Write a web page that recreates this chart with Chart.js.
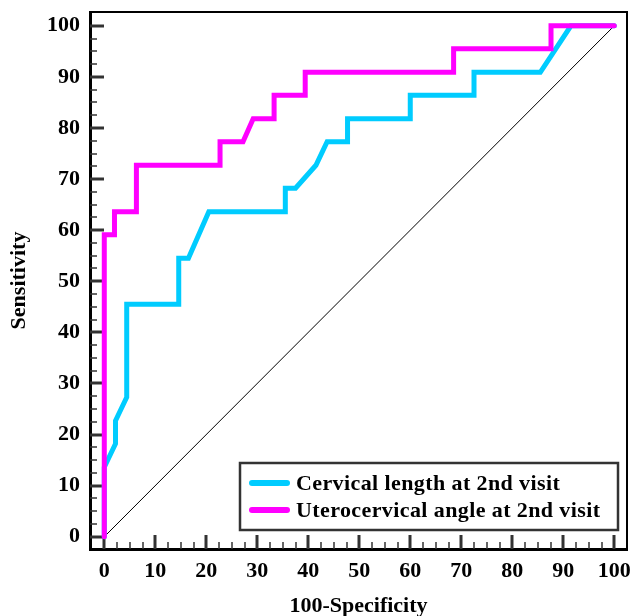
<!DOCTYPE html>
<html><head><meta charset="utf-8">
<script src="https://cdn.jsdelivr.net/npm/chart.js@4.4.1/dist/chart.umd.min.js"></script>
<style>html,body{margin:0;padding:0;background:#fff}#wrap{width:632px;height:616px;position:relative}</style>
</head><body><div id="wrap"><canvas id="c" width="632" height="616"></canvas></div>
<script>
// ---- data ----
const seriesLabels = ['Cervical length at 2nd visit', 'Uterocervical angle at 2nd visit'];
const cvX = [0, 0, 2.2, 2.2, 4.4, 4.4, 14.6, 14.6, 16.5, 20.5, 35.5, 35.5, 37.5, 41.5, 43.7, 47.7, 47.7, 60, 60, 72.5, 72.5, 85.5, 91.5, 100];
const cvY = [0, 13.6, 18.2, 22.7, 27.3, 45.5, 45.5, 54.5, 54.5, 63.6, 63.6, 68.2, 68.2, 72.7, 77.3, 77.3, 81.8, 81.8, 86.4, 86.4, 90.9, 90.9, 100, 100];
const ucX = [0, 0, 2, 2, 6.3, 6.3, 22.7, 22.7, 27.2, 29.2, 33.3, 33.3, 39.4, 39.4, 68.5, 68.5, 87.6, 87.6, 100];
const ucY = [0, 59.1, 59.1, 63.6, 63.6, 72.7, 72.7, 77.3, 77.3, 81.8, 81.8, 86.4, 86.4, 90.9, 90.9, 95.5, 95.5, 100, 100];
const refX = [0, 100];
const refY = [0, 100];
const tickValues = [0, 10, 20, 30, 40, 50, 60, 70, 80, 90, 100];
const minorStep = 2.5;

const pts = (xs, ys) => xs.map((v, i) => ({x: v, y: ys[i]}));
const FONT = '"Liberation Serif", "Times New Roman", serif';
const CYAN = '#00CCFF', MAG = '#FF00FF';

const frameTicks = {
  id: 'frameTicks',
  beforeDatasetsDraw(chart) {
    const {ctx, chartArea: a, scales: {x, y}} = chart;
    ctx.save();
    ctx.strokeStyle = '#333';
    const lo = tickValues[0], hi = tickValues[tickValues.length - 1];
    for (let v = lo; v <= hi + 1e-9; v += minorStep) {
      const major = tickValues.includes(v);
      ctx.lineWidth = major ? 3 : 1.5;
      const len = major ? 14 : 7;
      const py = Math.round(y.getPixelForValue(v));
      ctx.beginPath(); ctx.moveTo(a.left, py); ctx.lineTo(a.left + len, py); ctx.stroke();
      const px = Math.round(x.getPixelForValue(v));
      ctx.beginPath(); ctx.moveTo(px, a.bottom); ctx.lineTo(px, a.bottom - len); ctx.stroke();
    }
    ctx.strokeStyle = '#000';
    ctx.lineWidth = 2;
    ctx.beginPath();
    ctx.moveTo(a.left, a.top); ctx.lineTo(a.right, a.top); ctx.lineTo(a.right, a.bottom);
    ctx.stroke();
    ctx.restore();
  },
  afterDraw(chart) {
    const {ctx, chartArea: a} = chart;
    const w = 378, h = 67;
    const lx = a.right - 9 - w, ly = a.bottom - 19 - h;
    ctx.save();
    ctx.fillStyle = '#fff';
    ctx.fillRect(lx, ly, w, h);
    ctx.strokeStyle = '#333';
    ctx.lineWidth = 2.5;
    ctx.strokeRect(lx, ly, w, h);
    const rows = [{label: seriesLabels[0], color: CYAN}, {label: seriesLabels[1], color: MAG}];
    rows.forEach((r, i) => {
      const ry = ly + 20 + i * 27;
      ctx.strokeStyle = r.color;
      ctx.lineWidth = 6;
      ctx.lineCap = 'round';
      ctx.beginPath(); ctx.moveTo(lx + 12, ry); ctx.lineTo(lx + 47, ry); ctx.stroke();
      ctx.fillStyle = '#000';
      ctx.font = 'bold 22px ' + FONT;
      ctx.letterSpacing = '0.4px';
      ctx.textBaseline = 'middle';
      ctx.textAlign = 'left';
      ctx.fillText(r.label, lx + 56, ry + 1);
    });
    ctx.restore();
  }
};

new Chart(document.getElementById('c'), {
  type: 'scatter',
  data: {
    datasets: [
      {label: seriesLabels[1], data: pts(ucX, ucY), showLine: true, borderColor: MAG, backgroundColor: MAG,
       borderWidth: 5, pointRadius: 0, borderCapStyle: 'round', borderJoinStyle: 'miter', tension: 0},
      {label: seriesLabels[0], data: pts(cvX, cvY), showLine: true, borderColor: CYAN, backgroundColor: CYAN,
       borderWidth: 5, pointRadius: 0, borderCapStyle: 'round', borderJoinStyle: 'miter', tension: 0},
      {label: 'ref', data: pts(refX, refY), showLine: true, borderColor: '#000', borderWidth: 1,
       pointRadius: 0, tension: 0}
    ]
  },
  options: {
    responsive: false,
    animation: false,
    devicePixelRatio: 1,
    layout: {padding: {top: 12, right: 5, left: 0, bottom: 0}},
    plugins: {legend: {display: false}, tooltip: {enabled: false}},
    scales: {
      x: {
        type: 'linear', min: -2.8, max: 102.5,
        afterBuildTicks: s => { s.ticks = tickValues.map(v => ({value: v})); },
        afterFit: s => { s.height = 67; s.paddingLeft = 0; s.paddingRight = 0; },
        grid: {display: false, drawTicks: false},
        border: {display: true, width: 3, color: '#000'},
        ticks: {padding: 9, color: '#000', font: {family: FONT, size: 22, weight: 'bold'}, maxRotation: 0, autoSkip: false},
        title: {display: true, text: '100-Specificity', color: '#000', padding: 0,
                font: {family: FONT, size: 22, weight: 'bold', lineHeight: 0.9}}
      },
      y: {
        type: 'linear', min: -2.4, max: 102.7,
        afterBuildTicks: s => { s.ticks = tickValues.map(v => ({value: v})); },
        afterFit: s => { s.width = 90; s.paddingTop = 0; s.paddingBottom = 0; },
        grid: {display: false, drawTicks: false},
        border: {display: true, width: 3, color: '#000'},
        ticks: {padding: 10, color: '#000', font: {family: FONT, size: 22, weight: 'bold'}, autoSkip: false},
        title: {display: true, text: 'Sensitivity', color: '#000', padding: {top: 6},
                font: {family: FONT, size: 22, weight: 'bold'}}
      }
    }
  },
  plugins: [frameTicks]
});
</script>
</body></html>
